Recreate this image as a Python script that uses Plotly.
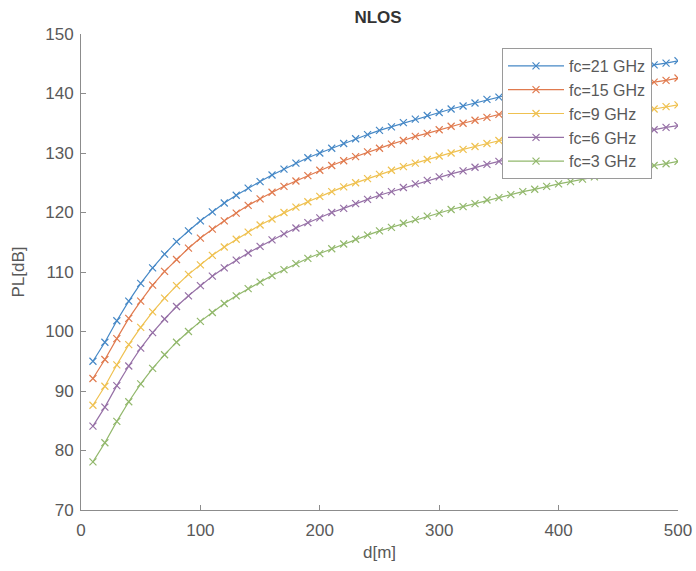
import plotly.graph_objects as go

# Distance samples [m]
d = [10, 20, 30, 40, 50, 60, 70, 80, 90, 100,
     110, 120, 130, 140, 150, 160, 170, 180, 190, 200,
     210, 220, 230, 240, 250, 260, 270, 280, 290, 300,
     310, 320, 330, 340, 350, 360, 370, 380, 390, 400,
     410, 420, 430, 440, 450, 460, 470, 480, 490, 500]

# Path loss [dB] per carrier frequency
pl_21 = [95.0, 98.2, 101.8, 105.1, 108.1, 110.7, 113.0, 115.1, 116.9, 118.6,
         120.1, 121.6, 122.9, 124.1, 125.2, 126.3, 127.3, 128.3, 129.2, 130.0,
         130.8, 131.6, 132.4, 133.1, 133.8, 134.4, 135.1, 135.7, 136.3, 136.8,
         137.4, 137.9, 138.4, 139.0, 139.4, 139.9, 140.4, 140.8, 141.3, 141.7,
         142.1, 142.5, 142.9, 143.3, 143.7, 144.1, 144.4, 144.8, 145.1, 145.5]
pl_15 = [92.1, 95.3, 98.8, 102.2, 105.1, 107.8, 110.1, 112.1, 114.0, 115.7,
         117.2, 118.6, 119.9, 121.2, 122.3, 123.4, 124.4, 125.3, 126.2, 127.1,
         127.9, 128.7, 129.4, 130.2, 130.8, 131.5, 132.1, 132.8, 133.3, 133.9,
         134.5, 135.0, 135.5, 136.0, 136.5, 137.0, 137.5, 137.9, 138.4, 138.8,
         139.2, 139.6, 140.0, 140.4, 140.8, 141.1, 141.5, 141.9, 142.2, 142.6]
pl_9 = [87.6, 90.8, 94.4, 97.8, 100.7, 103.3, 105.6, 107.7, 109.6, 111.2,
        112.8, 114.2, 115.5, 116.7, 117.9, 118.9, 120.0, 120.9, 121.8, 122.7,
        123.5, 124.3, 125.0, 125.7, 126.4, 127.1, 127.7, 128.3, 128.9, 129.5,
        130.0, 130.6, 131.1, 131.6, 132.1, 132.6, 133.0, 133.5, 133.9, 134.3,
        134.8, 135.2, 135.6, 136.0, 136.3, 136.7, 137.1, 137.4, 137.8, 138.1]
pl_6 = [84.1, 87.3, 90.9, 94.2, 97.2, 99.8, 102.1, 104.2, 106.0, 107.7,
        109.3, 110.7, 112.0, 113.2, 114.3, 115.4, 116.4, 117.4, 118.3, 119.1,
        120.0, 120.7, 121.5, 122.2, 122.9, 123.5, 124.2, 124.8, 125.4, 126.0,
        126.5, 127.0, 127.6, 128.1, 128.6, 129.0, 129.5, 130.0, 130.4, 130.8,
        131.2, 131.6, 132.0, 132.4, 132.8, 133.2, 133.5, 133.9, 134.3, 134.6]
pl_3 = [78.1, 81.3, 84.9, 88.2, 91.2, 93.8, 96.1, 98.2, 100.0, 101.7,
        103.2, 104.7, 106.0, 107.2, 108.3, 109.4, 110.4, 111.4, 112.3, 113.1,
        113.9, 114.7, 115.5, 116.2, 116.9, 117.5, 118.2, 118.8, 119.4, 119.9,
        120.5, 121.0, 121.5, 122.1, 122.5, 123.0, 123.5, 123.9, 124.4, 124.8,
        125.2, 125.6, 126.0, 126.4, 126.8, 127.2, 127.5, 127.9, 128.2, 128.6]

names = ["fc=21 GHz", "fc=15 GHz", "fc=9 GHz", "fc=6 GHz", "fc=3 GHz"]
series = [pl_21, pl_15, pl_9, pl_6, pl_3]
colors = ["#4688c6", "#e07a4e", "#efc150", "#9670a6", "#92b86c"]

FONT = "Liberation Sans, Arial, Helvetica, sans-serif"
AXIS_GRAY = "#8c8c8c"
TEXT_GRAY = "#595959"

fig = go.Figure()
for name, y, c in zip(names, series, colors):
    fig.add_trace(go.Scatter(
        x=d, y=y, name=name, mode="lines+markers",
        line=dict(color=c, width=1.2),
        marker=dict(symbol="x-thin", size=7, line=dict(color=c, width=1.2)),
    ))

axis_common = dict(
    showline=True, linecolor=AXIS_GRAY, linewidth=1,
    ticks="inside", ticklen=5, tickcolor=AXIS_GRAY, tickwidth=1,
    showgrid=False, zeroline=False, mirror=False, automargin=False,
    tickfont=dict(family=FONT, size=17, color=TEXT_GRAY),
    title_font=dict(family=FONT, size=17, color=TEXT_GRAY),
)

fig.update_layout(
    width=696, height=571,
    margin=dict(l=81, r=18, t=34, b=61),
    paper_bgcolor="white", plot_bgcolor="white",
    title=dict(text="<b>NLOS</b>", x=378 / 696, xanchor="center",
               y=1 - 17 / 571, yanchor="middle",
               font=dict(family=FONT, size=17, color="#333333")),
    xaxis=dict(range=[0, 500], tickvals=[0, 100, 200, 300, 400, 500],
               title=dict(text="d[m]", standoff=6), ticklabelstandoff=5,
               **axis_common),
    yaxis=dict(range=[70, 150], tickvals=[70, 80, 90, 100, 110, 120, 130, 140, 150],
               title=dict(text="PL[dB]", standoff=16), ticklabelstandoff=3,
               **axis_common),
    legend=dict(x=(502 - 81) / 597, y=(510 - 48) / 476, xanchor="left", yanchor="top",
                bgcolor="white", bordercolor="#9a9a9a", borderwidth=1,
                font=dict(family=FONT, size=16, color=TEXT_GRAY),
                itemwidth=56, tracegroupgap=0),
    showlegend=True,
)

fig.write_html("out.html")
